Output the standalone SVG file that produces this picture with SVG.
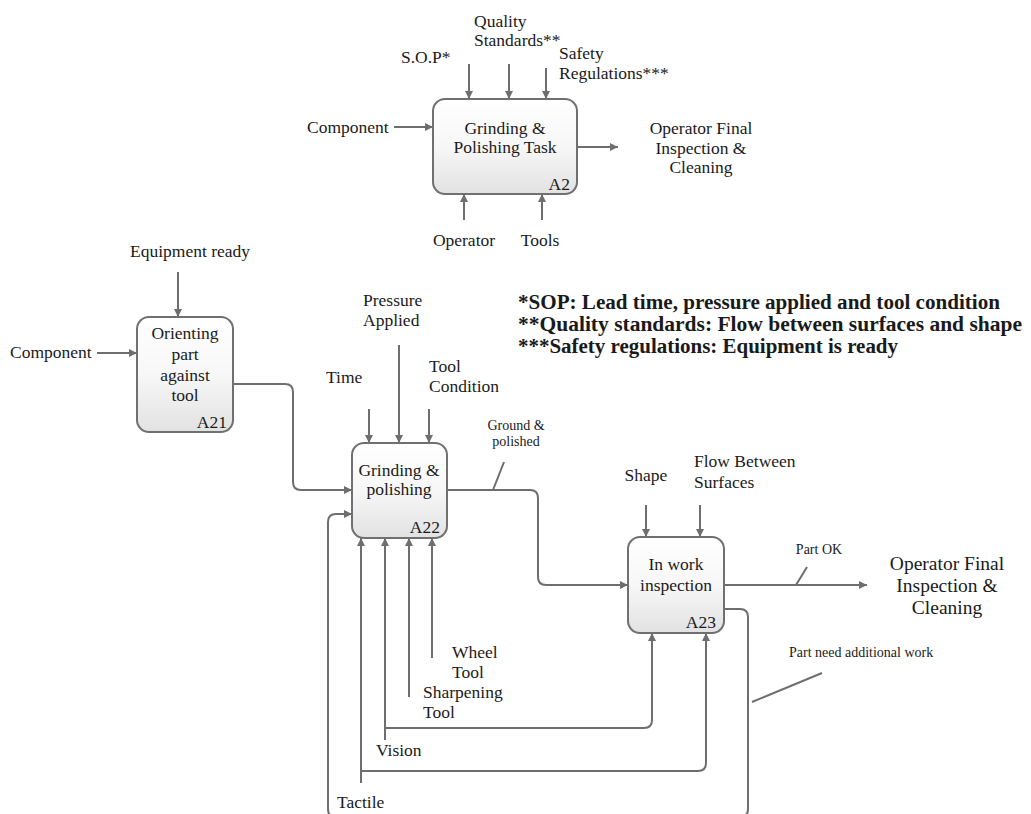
<svg xmlns="http://www.w3.org/2000/svg" width="1031" height="814" viewBox="0 0 1031 814">
<style>
text{font-family:"Liberation Serif","Times New Roman",serif;fill:#1a1a1a;font-size:17.5px}
.c{text-anchor:middle}
.e{text-anchor:end}
.s{font-size:14px}
.L{font-size:19.5px}
.b{font-weight:bold;font-size:20px}
.box{fill:url(#g);stroke:#707070;stroke-width:2}
.ln{fill:none;stroke:#6e6e6e;stroke-width:2}
.ar{marker-end:url(#ah)}
</style>
<defs>
<linearGradient id="g" x1="0" y1="0" x2="0" y2="1">
<stop offset="0" stop-color="#ffffff"/>
<stop offset="0.5" stop-color="#f7f7f7"/>
<stop offset="1" stop-color="#e2e2e2"/>
</linearGradient>
<marker id="ah" viewBox="0 0 10 10" refX="10" refY="5" markerWidth="9" markerHeight="8" markerUnits="userSpaceOnUse" orient="auto">
<path d="M0,0 L10,5 L0,10 z" fill="#6e6e6e"/>
</marker>
</defs>
<rect width="1031" height="814" fill="#ffffff"/>

<g id="connectors">
<path class="ln ar" d="M469,64 V99"/>
<path class="ln ar" d="M509,64 V99"/>
<path class="ln ar" d="M546,68 V99"/>
<path class="ln ar" d="M394,127 H433"/>
<path class="ln ar" d="M577,147 H618"/>
<path class="ln ar" d="M464,220 V194"/>
<path class="ln ar" d="M542,220 V194"/>

<path class="ln ar" d="M178,272 V317"/>
<path class="ln ar" d="M97,353 H137"/>
<path class="ln ar" d="M233,384 H285 Q293,384 293,392 V482 Q293,490 301,490 H352"/>
<path class="ln ar" d="M369,409 V443"/>
<path class="ln ar" d="M399,345 V443"/>
<path class="ln ar" d="M429,409 V443"/>
<path class="ln ar" d="M447,490 H530 Q538,490 538,498 V577 Q538,585 546,585 H628"/>
<path class="ln" d="M493,490 L504,462"/>
<path class="ln ar" d="M646,505 V537"/>
<path class="ln ar" d="M700,505 V537"/>
<path class="ln ar" d="M724,585 H867"/>
<path class="ln" d="M796,585 L807,567"/>
<path class="ln ar" d="M724,609 H740 Q748,609 748,617 V809 Q748,817 740,817 H336 Q328,817 328,809 V522 Q328,514 336,514 H352"/>
<path class="ln" d="M752,702 L822,673"/>
<path class="ln ar" d="M432,658 V538"/>
<path class="ln ar" d="M409,697 V538"/>
<path class="ln ar" d="M385,740 V538"/>
<path class="ln ar" d="M385,728 H644 Q652,728 652,720 V633"/>
<path class="ln ar" d="M361,783 V538"/>
<path class="ln ar" d="M361,771 H698 Q706,771 706,763 V633"/>
</g>

<g id="A2">
<rect class="box" x="433" y="99" width="144" height="95" rx="12"/>
<text class="c" x="505" y="134">Grinding &amp;</text>
<text class="c" x="505" y="153">Polishing Task</text>
<text class="e" x="570" y="190">A2</text>
</g>
<g id="A2-labels">
<text x="401" y="63">S.O.P*</text>
<text x="474" y="27">Quality</text>
<text x="474" y="46">Standards**</text>
<text x="559" y="59">Safety</text>
<text x="559" y="79">Regulations***</text>
<text x="307" y="133">Component</text>
<text class="c" x="701" y="134">Operator Final</text>
<text class="c" x="701" y="154">Inspection &amp;</text>
<text class="c" x="701" y="173">Cleaning</text>
<text class="c" x="464" y="246">Operator</text>
<text class="c" x="540" y="246">Tools</text>
</g>

<g id="notes">
<text class="b" x="518" y="309" textLength="482" lengthAdjust="spacingAndGlyphs">*SOP: Lead time, pressure applied and tool condition</text>
<text class="b" x="518" y="331" textLength="504" lengthAdjust="spacingAndGlyphs">**Quality standards: Flow between surfaces and shape</text>
<text class="b" x="518" y="353" textLength="380" lengthAdjust="spacingAndGlyphs">***Safety regulations: Equipment is ready</text>
</g>

<g id="A21">
<rect class="box" x="137" y="317" width="96" height="115" rx="12"/>
<text class="c" x="185" y="339">Orienting</text>
<text class="c" x="185" y="360">part</text>
<text class="c" x="185" y="381">against</text>
<text class="c" x="185" y="401">tool</text>
<text class="e" x="227" y="428">A21</text>
</g>
<g id="A21-labels">
<text class="c" x="190" y="257">Equipment ready</text>
<text x="10" y="358">Component</text>
</g>

<g id="A22">
<rect class="box" x="352" y="443" width="95" height="95" rx="12"/>
<text class="c" x="399" y="476">Grinding &amp;</text>
<text class="c" x="399" y="495">polishing</text>
<text class="e" x="440" y="533">A22</text>
</g>
<g id="A22-labels">
<text x="326" y="383">Time</text>
<text x="363" y="306">Pressure</text>
<text x="363" y="326">Applied</text>
<text x="429" y="372">Tool</text>
<text x="429" y="392">Condition</text>
<text class="s c" x="516" y="430">Ground &amp;</text>
<text class="s c" x="516" y="446">polished</text>
<text x="452" y="658">Wheel</text>
<text x="452" y="678">Tool</text>
<text x="423" y="698">Sharpening</text>
<text x="423" y="718">Tool</text>
<text x="376" y="756">Vision</text>
<text x="337" y="808">Tactile</text>
</g>

<g id="A23">
<rect class="box" x="628" y="537" width="96" height="96" rx="12"/>
<text class="c" x="676" y="570">In work</text>
<text class="c" x="676" y="591">inspection</text>
<text class="e" x="716" y="628">A23</text>
</g>
<g id="A23-labels">
<text class="c" x="646" y="481">Shape</text>
<text x="694" y="467">Flow Between</text>
<text x="694" y="488">Surfaces</text>
<text class="s c" x="819" y="554">Part OK</text>
<text class="c L" x="947" y="570">Operator Final</text>
<text class="c L" x="947" y="592">Inspection &amp;</text>
<text class="c L" x="947" y="614">Cleaning</text>
<text class="s" x="789" y="657">Part need additional work</text>
</g>
</svg>
